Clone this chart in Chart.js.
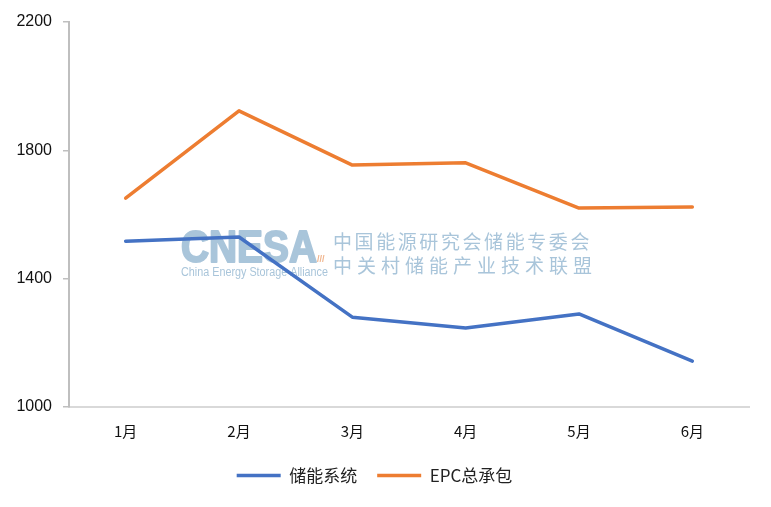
<!DOCTYPE html>
<html><head><meta charset="utf-8">
<script src="https://cdn.jsdelivr.net/npm/chart.js@4/dist/chart.umd.min.js"></script>
<style>html,body{margin:0;padding:0;background:#fff}#wrap{width:771px;height:507px}</style>
</head><body><div id="wrap"><canvas id="c" width="771" height="507"></canvas></div>
<script>
const months = ['1月','2月','3月','4月','5月','6月'];
const storageSystem = [1517, 1530, 1280, 1246, 1290, 1143];
const epcContract = [1651, 1923, 1754, 1761, 1620, 1623];
const yTicks = [1000, 1400, 1800, 2200];

const watermark = {
  id: 'watermark',
  beforeDatasetsDraw(chart) {
    const ctx = chart.ctx;
    ctx.save();
    ctx.fillStyle = '#a9c5da';
    ctx.strokeStyle = '#a9c5da';
    ctx.lineWidth = 2;
    ctx.lineJoin = 'round';
    ctx.textBaseline = 'alphabetic';
    ctx.font = 'bold 44px "Liberation Sans", Arial, sans-serif';
    ctx.fillText('CNESA', 181, 262, 136);
    ctx.strokeText('CNESA', 181, 262, 136);
    ctx.fillStyle = '#f0b48c';
    ctx.font = 'bold 9px "Liberation Sans", sans-serif';
    ctx.fillText('///', 317, 262);
    ctx.fillStyle = '#a9c5da';
    ctx.font = '12px "Liberation Sans", Arial, sans-serif';
    ctx.fillText('China Energy Storage Alliance', 181, 276, 147);
    ctx.font = '19px "Noto Sans CJK SC", sans-serif';
    const l1 = '中国能源研究会储能专委会', l2 = '中关村储能产业技术联盟';
    const x0 = 333, x1 = 592;
    let step = (x1 - x0) / l1.length;
    for (let i = 0; i < l1.length; i++) ctx.fillText(l1[i], x0 + i * step, 249);
    step = (x1 - x0 - 19) / (l2.length - 1);
    for (let i = 0; i < l2.length; i++) ctx.fillText(l2[i], x0 + i * step, 273);
    ctx.restore();
  }
};

new Chart(document.getElementById('c'), {
  type: 'line',
  data: {
    labels: months,
    datasets: [
      { label: '储能系统', data: storageSystem, borderColor: '#4472c4', backgroundColor: '#4472c4',
        borderWidth: 3.5, pointRadius: 0, tension: 0, borderCapStyle: 'round', borderJoinStyle: 'round' },
      { label: 'EPC总承包', data: epcContract, borderColor: '#ed7d31', backgroundColor: '#ed7d31',
        borderWidth: 3.5, pointRadius: 0, tension: 0, borderCapStyle: 'round', borderJoinStyle: 'round' }
    ]
  },
  options: {
    responsive: false,
    animation: false,
    layout: { padding: { left: 0, right: 22, top: 22, bottom: 13 } },
    plugins: {
      legend: {
        position: 'bottom',
        labels: {
          usePointStyle: true, pointStyle: 'line', pointStyleWidth: 44,
          color: '#222', font: { family: '"Noto Sans CJK SC", sans-serif', size: 17 },
          padding: 20
        }
      },
      tooltip: { enabled: false }
    },
    scales: {
      x: {
        offset: true,
        grid: { display: false, drawTicks: false },
        border: { display: true, color: '#d9d9d9', width: 2 },
        ticks: { color: '#111', font: { family: '"Noto Sans CJK SC", sans-serif', size: 15 }, padding: 15 },
        afterFit(s) { s.height = 40; }
      },
      y: {
        min: 1000, max: 2200,
        afterBuildTicks(s) { s.ticks = yTicks.map(v => ({ value: v })); },
        grid: { drawOnChartArea: false, drawTicks: true, tickLength: 6, color: '#bfbfbf', lineWidth: 1.5 },
        border: { display: true, color: '#bfbfbf', width: 2 },
        ticks: { color: '#111', font: { family: '"Liberation Sans", sans-serif', size: 16 }, padding: 11,
          callback: v => String(v) },
        afterFit(s) { s.width = 69; }
      }
    }
  },
  plugins: [watermark]
});
</script></body></html>
